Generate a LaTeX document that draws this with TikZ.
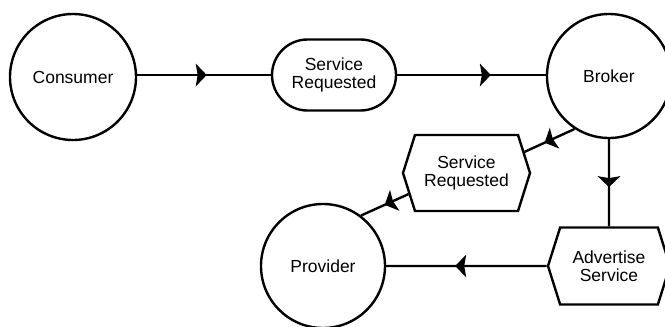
\documentclass[tikz,border=0pt]{standalone}
\usepackage{fontspec}
\setmainfont{Liberation Sans}
\usetikzlibrary{shapes.misc,shapes.symbols,shapes.geometric,decorations.markings}

\begin{document}
\begin{tikzpicture}[x=1pt,y=-1pt,line width=2.4pt,
  every node/.style={font=\fontsize{17.5pt}{18pt}\selectfont, align=center, inner sep=0pt},
  actor/.style={draw, circle, minimum size=#1},
  message/.style={draw, rounded rectangle, minimum width=124pt, minimum height=71pt},
  hexbox/.style={draw, signal, signal to=west and east, signal pointer angle=145},
  % mid-line arrowhead: a filled triangle with a slightly notched back
  flow/.style={draw,
    decoration={markings, mark=at position #1 with {
      \fill[line width=0pt] (-11pt,-11.5pt) -- (0pt,0pt) -- (-11pt,11.5pt) -- (-9pt,0pt) -- cycle;}},
    postaction={decorate}}
]
\useasboundingbox (0,0) rectangle (665,327);

% participants
\node[actor=126pt] (cons)   at (73,77)  {Consumer};
\node[actor=124pt] (broker) at (609,76) {Broker};
\node[actor=124pt] (prov)   at (323,266) {Provider};

% messages
\node[message] (sreq1) at (334,75) {Service\\Requested};
\node[hexbox, minimum width=127pt, minimum height=76pt] (sreq2) at (466.5,173) {Service\\Requested};
\node[hexbox, minimum width=122pt, minimum height=77pt] (advert) at (609,266) {Advertise\\Service};

% flows
\draw[flow=0.52] (cons.east |- sreq1.west) -- (sreq1.west);
\draw[flow=0.63] (sreq1.east) -- (sreq1.east -| broker.west);
\draw[flow=0.6]  (broker.237) -- (sreq2.20);
\draw[flow=0.5]  (sreq2.200) -- (prov.53);
\draw[flow=0.55] (broker) -- (advert);
\draw[flow=0.57] (advert) -- (prov);
\end{tikzpicture}
\end{document}
